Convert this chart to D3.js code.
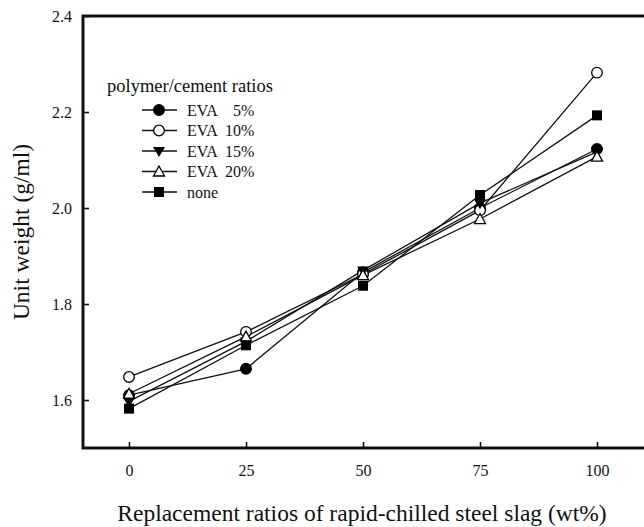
<!DOCTYPE html>
<html>
<head>
<meta charset="utf-8">
<script src="https://cdn.jsdelivr.net/npm/d3@7"></script>
<style>
  body { margin: 0; background: #fff; }
  text { font-family: "Liberation Serif", "Times New Roman", serif; fill: #111; }
</style>
</head>
<body>
<div id="chart"></div>
<script>
// data
var xValues = [0, 25, 50, 75, 100]
var xTicks = [0, 25, 50, 75, 100]
var yTicks = [1.6, 1.8, 2.0, 2.2, 2.4]

var eva5 = [1.610, 1.665, 1.866, 2.000, 2.123]
var eva10 = [1.648, 1.742, 1.862, 1.995, 2.282]
var eva15 = [1.597, 1.722, 1.870, 2.010, 2.117]
var eva20 = [1.613, 1.732, 1.860, 1.977, 2.107]
var none = [1.582, 1.714, 1.838, 2.027, 2.193]

var seriesNames = ["EVA    5%", "EVA  10%", "EVA  15%", "EVA  20%", "none"]
var seriesValues = [eva5, eva10, eva15, eva20, none]
var seriesMarks = ["circle", "circleOpen", "triDown", "triUp", "square"]

var width = 644, height = 527
// plot box edges (right side runs off the picture)
var boxLeft = 83, boxTop = 16, boxRight = 650, boxBottom = 448

var svg = d3.select("#chart").append("svg")
    .attr("width", width)
    .attr("height", height)

var x = d3.scaleLinear().domain([0, 100]).range([129, 597])
var y = d3.scaleLinear().domain([1.5, 2.4]).range([boxBottom, boxTop])

// axes with inward ticks
svg.append("g")
    .attr("transform", "translate(0," + boxBottom + ")")
    .call(d3.axisBottom(x).tickValues(xTicks).tickSize(-6).tickPadding(17))
    .call(g => g.select(".domain").remove())
    .call(g => g.selectAll("line").attr("stroke", "#111").attr("stroke-width", 1.6))
    .call(g => g.selectAll("text").style("font-size", "16px"))

svg.append("g")
    .attr("transform", "translate(" + boxLeft + ",0)")
    .call(d3.axisLeft(y).tickValues(yTicks).tickFormat(d3.format(".1f")).tickSize(-6).tickPadding(11))
    .call(g => g.select(".domain").remove())
    .call(g => g.selectAll("line").attr("stroke", "#111").attr("stroke-width", 1.6))
    .call(g => g.selectAll("text").style("font-size", "16px"))

svg.append("rect")
    .attr("x", boxLeft).attr("y", boxTop)
    .attr("width", boxRight - boxLeft).attr("height", boxBottom - boxTop)
    .attr("fill", "none").attr("stroke", "#111").attr("stroke-width", 3)

function drawMark(g, kind, cx, cy) {
    if (kind == "circle" || kind == "circleOpen") {
        g.append("circle").attr("cx", cx).attr("cy", cy).attr("r", 5.3)
            .attr("fill", kind == "circle" ? "#000" : "#fff")
            .attr("stroke", "#000").attr("stroke-width", 1.3)
    } else if (kind == "square") {
        g.append("rect").attr("x", cx - 5).attr("y", cy - 5).attr("width", 10).attr("height", 10)
            .attr("fill", "#000")
    } else if (kind == "triDown") {
        g.append("path").attr("d", "M" + (cx - 6) + "," + (cy - 4) + "L" + (cx + 6) + "," + (cy - 4) + "L" + cx + "," + (cy + 6) + "Z")
            .attr("fill", "#000")
    } else {
        g.append("path").attr("d", "M" + (cx - 5.5) + "," + (cy + 4.5) + "L" + (cx + 5.5) + "," + (cy + 4.5) + "L" + cx + "," + (cy - 5.5) + "Z")
            .attr("fill", "#fff").attr("stroke", "#000").attr("stroke-width", 1.3)
    }
}

var line = d3.line().x((d, i) => x(xValues[i])).y(d => y(d))

var plot = svg.append("g")
seriesValues.forEach(function(vals) {
    plot.append("path").datum(vals)
        .attr("d", line)
        .attr("fill", "none").attr("stroke", "#111").attr("stroke-width", 1.3)
})
seriesValues.forEach(function(vals, s) {
    vals.forEach(function(v, i) { drawMark(plot, seriesMarks[s], x(xValues[i]), y(v)) })
})

// legend
var legend = svg.append("g")
legend.append("text").attr("x", 107).attr("y", 92).style("font-size", "18.5px").text("polymer/cement ratios")
seriesNames.forEach(function(name, i) {
    var ly = 110 + i * 20.5
    legend.append("line").attr("x1", 142).attr("x2", 177).attr("y1", ly).attr("y2", ly)
        .attr("stroke", "#111").attr("stroke-width", 1.3)
    drawMark(legend, seriesMarks[i], 159, ly)
    legend.append("text").attr("x", 187).attr("y", ly + 5.5).style("font-size", "16px")
        .style("white-space", "pre").text(name)
})

// axis titles
svg.append("text").attr("x", 362).attr("y", 521).attr("text-anchor", "middle")
    .style("font-size", "23.5px").text("Replacement ratios of rapid-chilled steel slag (wt%)")
svg.append("text").attr("transform", "translate(29,232) rotate(-90)").attr("text-anchor", "middle")
    .style("font-size", "23.5px").text("Unit weight (g/ml)")
</script>
</body>
</html>
